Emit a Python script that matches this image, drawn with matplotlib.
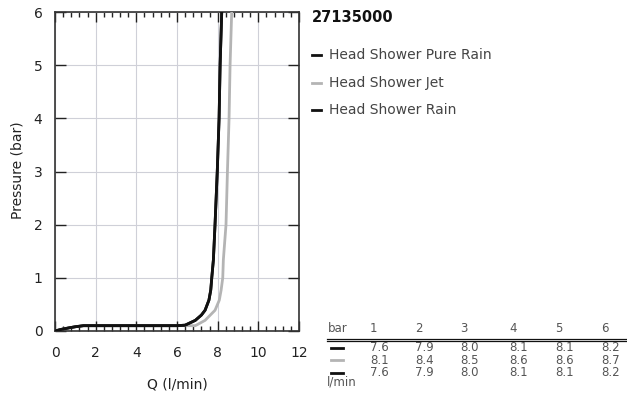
import numpy as np
import matplotlib
matplotlib.use("Agg")
import matplotlib.pyplot as plt
from matplotlib.lines import Line2D
from matplotlib.ticker import MultipleLocator

# flow (l/min) vs pressure (bar)
q_pure_rain = [0, 0.3, 0.7, 1.0, 1.4, 2, 4, 6, 6.4, 6.9, 7.2, 7.38, 7.57, 7.66, 7.71, 7.79,
               7.87, 7.98, 8.07, 8.12, 8.2]
p_pure_rain = [0, 0.03, 0.06, 0.08, 0.1, 0.1, 0.1, 0.1, 0.11, 0.2, 0.3, 0.39, 0.58, 0.77, 1.0,
               1.34, 2.0, 3.0, 4.0, 5.0, 6.0]
q_jet = [0, 0.3, 0.7, 1.0, 1.4, 2, 4, 6, 6.9, 7.38, 7.87, 8.08, 8.17, 8.25, 8.28, 8.41, 8.48,
         8.56, 8.61, 8.69]
p_jet = [0, 0.03, 0.06, 0.08, 0.1, 0.1, 0.1, 0.1, 0.1, 0.2, 0.39, 0.58, 0.77, 1.0, 1.34, 2.0,
         3.0, 4.0, 5.0, 6.0]
q_rain = q_pure_rain
p_rain = p_pure_rain

series_names = ["Head Shower Pure Rain", "Head Shower Jet", "Head Shower Rain"]
series_colors = ["#111111", "#b4b4b4", "#111111"]

table_header = ["1", "2", "3", "4", "5", "6"]
table_rows = [
    ["7.6", "7.9", "8.0", "8.1", "8.1", "8.2"],
    ["8.1", "8.4", "8.5", "8.6", "8.6", "8.7"],
    ["7.6", "7.9", "8.0", "8.1", "8.1", "8.2"],
]
product_code = "27135000"

W, H = 627, 403
fig = plt.figure(figsize=(W / 100, H / 100), dpi=100)


def fx(px):
    return px / W


def fy(py):
    return 1 - py / H


ax = fig.add_axes([fx(55), fy(331), fx(299) - fx(55), fy(12) - fy(331)])
ax.plot(q_jet, p_jet, color=series_colors[1], lw=2.0, zorder=3)
ax.plot(q_rain, p_rain, color=series_colors[2], lw=2.0, zorder=4)
ax.plot(q_pure_rain, p_pure_rain, color=series_colors[0], lw=2.0, zorder=5)

ax.set_xlim(0, 12)
ax.set_ylim(0, 6)
ax.xaxis.set_major_locator(MultipleLocator(2))
ax.xaxis.set_minor_locator(MultipleLocator(0.4))
ax.yaxis.set_major_locator(MultipleLocator(1))
ax.grid(True, which="major", color="#cfd0d8", lw=0.8, zorder=0)
ax.tick_params(axis="x", which="major", direction="in", top=True, length=7, width=1,
               color="#222222", labelsize=10, labelcolor="#222222", pad=11)
ax.tick_params(axis="x", which="minor", direction="in", top=True, length=3.5, width=1,
               color="#222222")
ax.tick_params(axis="y", which="major", direction="in", right=True, length=8, width=1,
               color="#222222", labelsize=10, labelcolor="#222222", pad=9)
for s in ax.spines.values():
    s.set_color("#333333")
    s.set_linewidth(1.2)

fig.text(fx(18), fy(170), "Pressure (bar)", rotation=90, ha="center", va="center",
         fontsize=10, color="#222222")
fig.text(fx(177), fy(384), "Q (l/min)", ha="center", va="center", fontsize=10,
         color="#222222")

# title + legend
fig.text(fx(312), fy(18), product_code, ha="left", va="center", fontsize=10.5,
         fontweight="bold", color="#111111")
for i, (name, col) in enumerate(zip(series_names, series_colors)):
    y = 55 + i * 27.5
    fig.add_artist(Line2D([fx(312), fx(321)], [fy(y), fy(y)], color=col, lw=2.0))
    fig.text(fx(329), fy(y), name, ha="left", va="center", fontsize=10, color="#444444")

# flow table
col_x = [370, 415, 460, 509, 555, 601]
tsize = 8.5
tcol = "#555555"
fig.text(fx(328), fy(328), "bar", ha="left", va="center", fontsize=tsize, color=tcol)
for x, h in zip(col_x, table_header):
    fig.text(fx(x), fy(328), h, ha="left", va="center", fontsize=tsize, color=tcol)
for yy in (338.5, 340.8):
    fig.add_artist(Line2D([fx(327), fx(627)], [fy(yy), fy(yy)], color="#111111", lw=0.9))
row_y = [347.5, 360, 372.5]
for r, (vals, col) in enumerate(zip(table_rows, series_colors)):
    y = row_y[r]
    fig.add_artist(Line2D([fx(331), fx(343)], [fy(y), fy(y)], color=col, lw=2.0))
    for x, v in zip(col_x, vals):
        fig.text(fx(x), fy(y), v, ha="left", va="center", fontsize=tsize, color=tcol)
fig.text(fx(327), fy(382), "l/min", ha="left", va="center", fontsize=tsize, color=tcol)

fig.savefig("out.png", dpi=100)
